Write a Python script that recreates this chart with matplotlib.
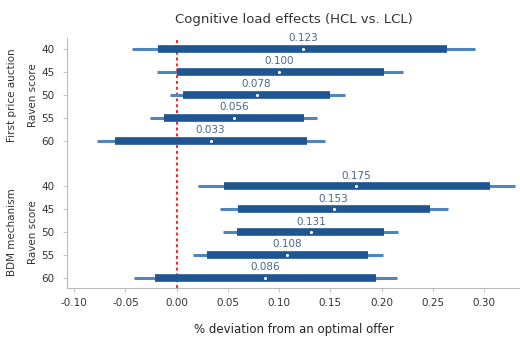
import matplotlib
matplotlib.use("Agg")
import matplotlib.pyplot as plt
import numpy as np

raven = ["40", "45", "50", "55", "60"]
groups = ["First price auction", "BDM mechanism"]

fpa_est = [0.123, 0.100, 0.078, 0.056, 0.033]
fpa_lo95 = [-0.044, -0.019, -0.007, -0.026, -0.078]
fpa_hi95 = [0.291, 0.221, 0.164, 0.137, 0.145]
fpa_lo90 = [-0.018, 0.000, 0.006, -0.012, -0.060]
fpa_hi90 = [0.264, 0.202, 0.150, 0.124, 0.127]

bdm_est = [0.175, 0.153, 0.131, 0.108, 0.086]
bdm_lo95 = [0.021, 0.042, 0.045, 0.016, -0.042]
bdm_hi95 = [0.330, 0.265, 0.216, 0.201, 0.215]
bdm_lo90 = [0.046, 0.060, 0.059, 0.030, -0.021]
bdm_hi90 = [0.306, 0.247, 0.202, 0.187, 0.194]

xticks = [-0.10, -0.05, 0.00, 0.05, 0.10, 0.15, 0.20, 0.25, 0.30]

fig = plt.figure(figsize=(5.2, 3.37), dpi=100)
ax = fig.add_axes([0.129, 0.145, 0.871, 0.742])

thick_c = "#1f5591"
thin_c = "#4f86c0"
lab_c = "#4a6688"

ax.axvline(0, color="#ff2020", lw=1.4, ls=(0, (1.5, 1.5)), zorder=1)

sets = [
    (np.arange(5), fpa_est, fpa_lo95, fpa_hi95, fpa_lo90, fpa_hi90),
    (np.arange(5) + 6, bdm_est, bdm_lo95, bdm_hi95, bdm_lo90, bdm_hi90),
]
for ys, est, lo95, hi95, lo90, hi90 in sets:
    ax.hlines(ys, lo95, hi95, color=thin_c, lw=2.2, zorder=2)
    ax.hlines(ys, lo90, hi90, color=thick_c, lw=5.5, zorder=3)
    ax.scatter(est, ys, s=5, color="white", zorder=4, linewidths=0)
    for y, e in zip(ys, est):
        ax.text(e, y - 0.25, f"{e:.3f}", ha="center", va="bottom",
                fontsize=7.5, color=lab_c, zorder=5)

yt = list(np.arange(5)) + list(np.arange(5) + 6)
ax.set_yticks(yt)
ax.set_yticklabels(raven + raven, fontsize=7.5, color="#333333")
ax.set_ylim(10.44, -0.48)
ax.set_xlim(-0.107, 0.335)
ax.set_xticks(xticks)
ax.set_xticklabels([f"{t:.2f}" for t in xticks], fontsize=7.5, color="#333333")

for s in ["top", "right"]:
    ax.spines[s].set_visible(False)
for s in ["left", "bottom"]:
    ax.spines[s].set_color("#bbbbbb")
    ax.spines[s].set_linewidth(0.8)
ax.tick_params(axis="both", length=3, color="#bbbbbb", width=0.6)
ax.tick_params(axis="y", pad=6)
ax.tick_params(axis="x", pad=4)

ax.set_title("Cognitive load effects (HCL vs. LCL)", fontsize=9.5,
             color="#333333", pad=11)
fig.text(293.5 / 520, 1 - 329 / 337, "% deviation from an optimal offer",
         ha="center", va="center", fontsize=8.5, color="#222222")

def ycoord(v):
    disp = ax.transData.transform((0, v))
    return fig.transFigure.inverted().transform(disp)[1]

for name, center in [(groups[0], 2), (groups[1], 8)]:
    yc = ycoord(center)
    fig.text(12 / 520, yc, name, rotation=90, ha="center", va="center",
             fontsize=7.5, color="#333333")
    fig.text(33 / 520, yc, "Raven score", rotation=90, ha="center",
             va="center", fontsize=7.5, color="#333333")

fig.savefig("out.png", dpi=100)
